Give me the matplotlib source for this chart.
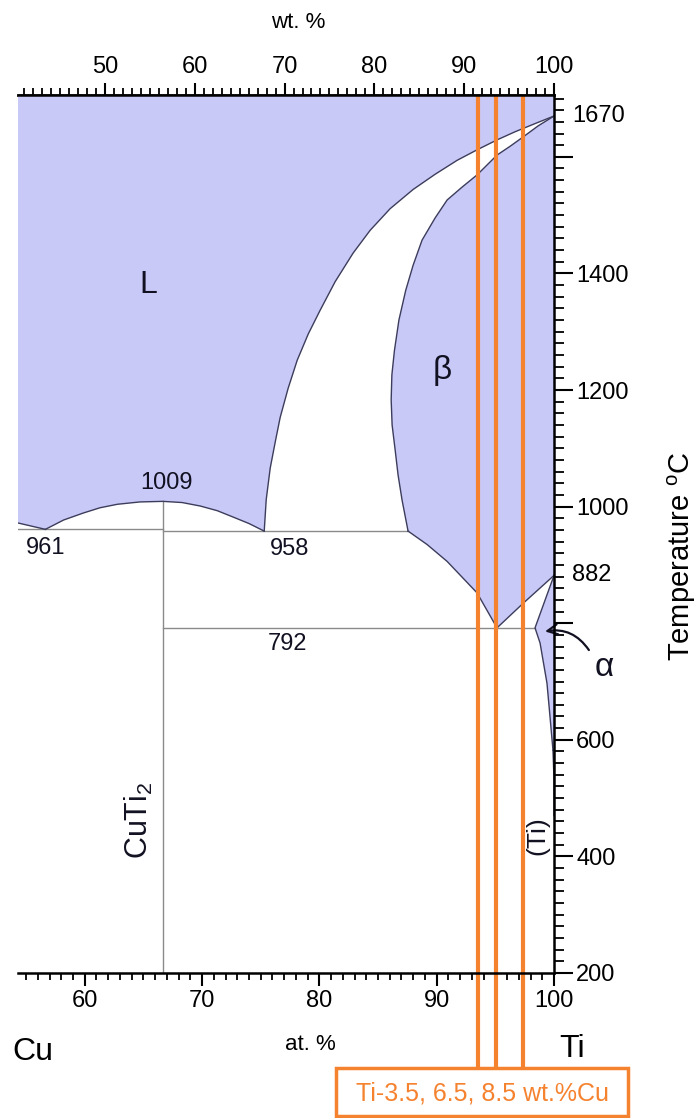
import matplotlib
matplotlib.use('Agg')
import matplotlib.pyplot as plt
import numpy as np
from matplotlib.patches import Rectangle, Polygon

plt.rcParams['font.family'] = ['Liberation Sans', 'DejaVu Sans']
plt.rcParams['mathtext.fontset'] = 'custom'
plt.rcParams['mathtext.rm'] = 'Liberation Sans'

# ---------------- data (at.% Ti, temperature in degC) ----------------
X_MIN, X_MAX = 54.3, 100.0
T_MIN, T_MAX = 200.0, 1706.0

liq_cu_at = [54.3, 56.65]
liq_cu_T = [972, 961]

dome_at = [56.65, 58.2, 59.88, 61.3, 62.78, 64.7, 66.67, 68.3, 69.85, 71.3, 72.66, 74.0, 75.30]
dome_T = [961, 977, 989, 998, 1004, 1008, 1009, 1007, 1001, 993, 982, 971, 958]

liq_ti_at = [75.30, 75.47, 75.81, 76.24, 76.66, 77.34, 78.11, 79.05, 80.07, 81.35, 82.88,
             84.33, 86.03, 87.99, 89.86, 91.74, 93.44, 95.14, 96.68, 98.38, 100.0]
liq_ti_T = [958, 1012, 1066, 1111, 1153, 1203, 1251, 1296, 1337, 1386, 1435,
            1474, 1511, 1544, 1570, 1594, 1612, 1629, 1643, 1657, 1670]

sol_at = [100.0, 98.64, 97.36, 96.25, 95.14, 93.44, 92.16, 90.89, 89.86, 88.75, 87.99,
          87.36, 86.78, 86.40, 86.18, 86.12, 86.20, 86.46, 86.71, 87.05, 87.56]
sol_T = [1670, 1653, 1634, 1618, 1603, 1569, 1548, 1526, 1495, 1457, 1414,
         1371, 1320, 1268, 1226, 1183, 1140, 1097, 1054, 1011, 958]

trans_at = [87.56, 89.18, 90.89, 93.44, 95.14]
trans_T = [958, 935, 906, 852, 792]

ab_at = [95.14, 97.36, 100.0]
ab_T = [792, 834, 882]

alpha_at = [100.0, 98.38, 98.81, 99.40, 99.66, 99.91, 100.0]
alpha_T = [882, 792, 766, 697, 639, 582, 531]

T_eut1, T_cong, T_eut2, T_eutd, T_trans, T_melt = 961, 1009, 958, 792, 882, 1670
at_cuti2 = 66.67
at_beta_958 = 87.56
at_alpha_792 = 98.38

wt_cu = [3.5, 6.5, 8.5]          # alloy compositions, wt.% Cu

bottom_ticks = [60, 70, 80, 90, 100]
top_ticks = [50, 60, 70, 80, 90, 100]
right_ticks = [200, 400, 600, 800, 1000, 1200, 1400, 1600]
right_labels = ['200', '400', '600', '', '1000', '1200', '1400', '']

# linear top (wt.%) axis as drawn in the figure: wt 50 -> at 61.72, wt 100 -> at 100
AT50 = 61.72
SLOPE = 50.0 / (100.0 - AT50)

def at2wt(a):
    return 50 + (np.asarray(a) - AT50) * SLOPE

def wt2at(w):
    return AT50 + (np.asarray(w) - 50) / SLOPE

FILL = '#c9c9f8'
LINE = '#3c3c5c'
GRAY = '#8a8a8a'
ORANGE = '#f5822f'
TXT = '#111122'

fig = plt.figure(figsize=(6.99, 11.18), dpi=100)
ax = fig.add_axes([0.0255, 0.1297, 0.7671, 0.7853])
ax.set_xlim(X_MIN, X_MAX)
ax.set_ylim(T_MIN, T_MAX)

# ---- filled regions ----
L_x = [X_MIN - 1] + liq_cu_at + dome_at[1:] + liq_ti_at[1:] + [X_MAX, X_MIN - 1]
L_y = [liq_cu_T[0]] + liq_cu_T + dome_T[1:] + liq_ti_T[1:] + [T_MAX + 10, T_MAX + 10]
ax.add_patch(Polygon(np.column_stack([L_x, L_y]), closed=True, fc=FILL, ec='none', zorder=1))

B_x = sol_at + trans_at[1:] + ab_at[1:]
B_y = sol_T + trans_T[1:] + ab_T[1:]
ax.add_patch(Polygon(np.column_stack([B_x, B_y]), closed=True, fc=FILL, ec='none', zorder=1))

ax.add_patch(Polygon(np.column_stack([alpha_at, alpha_T]), closed=True, fc=FILL, ec='none', zorder=1))

# ---- boundaries ----
lw = 1.0
for xs, ys in [(liq_cu_at, liq_cu_T), (dome_at, dome_T), (liq_ti_at, liq_ti_T),
               (sol_at, sol_T), (trans_at, trans_T), (ab_at, ab_T),
               (alpha_at[:-1], alpha_T[:-1])]:
    ax.plot(xs, ys, color=LINE, lw=lw, zorder=3, solid_joinstyle='round')
ax.plot([alpha_at[-2], alpha_at[-1], alpha_at[-1]], [alpha_T[-2], alpha_T[-1], 470],
        color=LINE, lw=lw, zorder=3)

ax.plot([X_MIN, at_cuti2], [T_eut1, T_eut1], color=GRAY, lw=1.0, zorder=2)
ax.plot([at_cuti2, at_beta_958], [T_eut2, T_eut2], color=GRAY, lw=1.0, zorder=2)
ax.plot([at_cuti2, at_alpha_792], [T_eutd, T_eutd], color=GRAY, lw=1.0, zorder=2)
ax.plot([at_cuti2, at_cuti2], [T_MIN, T_cong], color=GRAY, lw=1.0, zorder=2)

# ---- alloy lines ----
y_box_top = 37
for w in wt_cu:
    xa = float(wt2at(100 - w))
    ax.plot([xa, xa], [y_box_top, T_MAX], color=ORANGE, lw=3.0, zorder=5, clip_on=False,
            solid_capstyle='butt')

# ---- labels in plot ----
fs = 17
ax.text(65.4, 1380, 'L', fontsize=23, ha='center', va='center', color=TXT)
ax.text(90.5, 1234, 'β', fontsize=24, ha='center', va='center', color=TXT)
ax.text(67.0, 1040, str(T_cong), fontsize=fs, ha='center', va='center', color=TXT)
ax.text(56.7, 929, str(T_eut1), fontsize=fs, ha='center', va='center', color=TXT)
ax.text(77.5, 927, str(T_eut2), fontsize=fs, ha='center', va='center', color=TXT)
ax.text(77.3, 764, str(T_eutd), fontsize=fs, ha='center', va='center', color=TXT)
ax.text(64.65, 462, 'CuTi$_2$', fontsize=22, ha='center', va='center', rotation=90, color=TXT)
ax.text(98.6, 435, '(Ti)', fontsize=19, ha='center', va='center', rotation=90, color=TXT)
ax.text(104.3, 724, 'α', fontsize=24, ha='center', va='center', color=TXT, clip_on=False)
ax.annotate('', xy=(99.0, 785), xytext=(103.1, 750), annotation_clip=False,
            arrowprops=dict(arrowstyle='->', color=TXT, lw=1.6,
                            connectionstyle='arc3,rad=0.35', mutation_scale=18))

# ---- axes styling ----
ax.spines['left'].set_visible(False)
for s in ['top', 'bottom', 'right']:
    ax.spines[s].set_linewidth(1.8)
    ax.spines[s].set_zorder(6)

ax.set_xticks(bottom_ticks)
ax.set_xticks(np.arange(55, 100, 1), minor=True)
ax.tick_params(axis='x', which='major', direction='out', length=9, width=1.5, labelsize=fs, pad=3)
ax.tick_params(axis='x', which='minor', direction='out', length=5, width=1.3)

ax.yaxis.tick_right()
ax.set_yticks(right_ticks)
ax.set_yticklabels(right_labels)
ax.set_yticks(np.arange(200, 1701, 20), minor=True)
ax.tick_params(axis='y', which='major', direction='out', length=14, width=1.5, labelsize=fs, pad=2)
ax.tick_params(axis='y', which='minor', direction='out', length=7, width=1.3)
for tv in [T_trans, T_melt]:
    ax.text(1.0 + 18 / 536, tv, str(tv), transform=ax.get_yaxis_transform(), fontsize=fs,
            ha='left', va='center', clip_on=False)

sec = ax.secondary_xaxis('top', functions=(at2wt, wt2at))
sec.set_xticks(top_ticks)
sec.set_xticks(np.arange(41, 100, 1), minor=True)
sec.tick_params(axis='x', which='major', direction='out', length=9, width=1.5, labelsize=fs, pad=3)
sec.tick_params(axis='x', which='minor', direction='out', length=5, width=1.3)
sec.spines['top'].set_linewidth(1.8)

# ---- outer labels ----
fig.text(298 / 699, 1 - 22 / 1118, 'wt. %', fontsize=16, ha='center', va='center')
fig.text(310 / 699, 1 - 1045 / 1118, 'at. %', fontsize=16, ha='center', va='center')
fig.text(33 / 699, 1 - 1052 / 1118, 'Cu', fontsize=23, ha='center', va='center')
fig.text(572 / 699, 1 - 1049 / 1118, 'Ti', fontsize=23, ha='center', va='center')
fig.text(682 / 699, 1 - 556 / 1118, 'Temperature $^{\\mathrm{o}}$C', fontsize=21, ha='center',
         va='center', rotation=90)

# ---- composition box ----
fig.patches.append(Rectangle((336 / 699, 0.002), (628 - 336) / 699, (1116 - 1068) / 1118,
                             transform=fig.transFigure, fill=False, ec=ORANGE, lw=2.5))
fig.text(482 / 699, 1 - 1094 / 1118,
         'Ti-' + ', '.join(str(w) for w in wt_cu) + ' wt.%Cu',
         fontsize=18, ha='center', va='center', color=ORANGE)

fig.savefig('out.png', dpi=100)
